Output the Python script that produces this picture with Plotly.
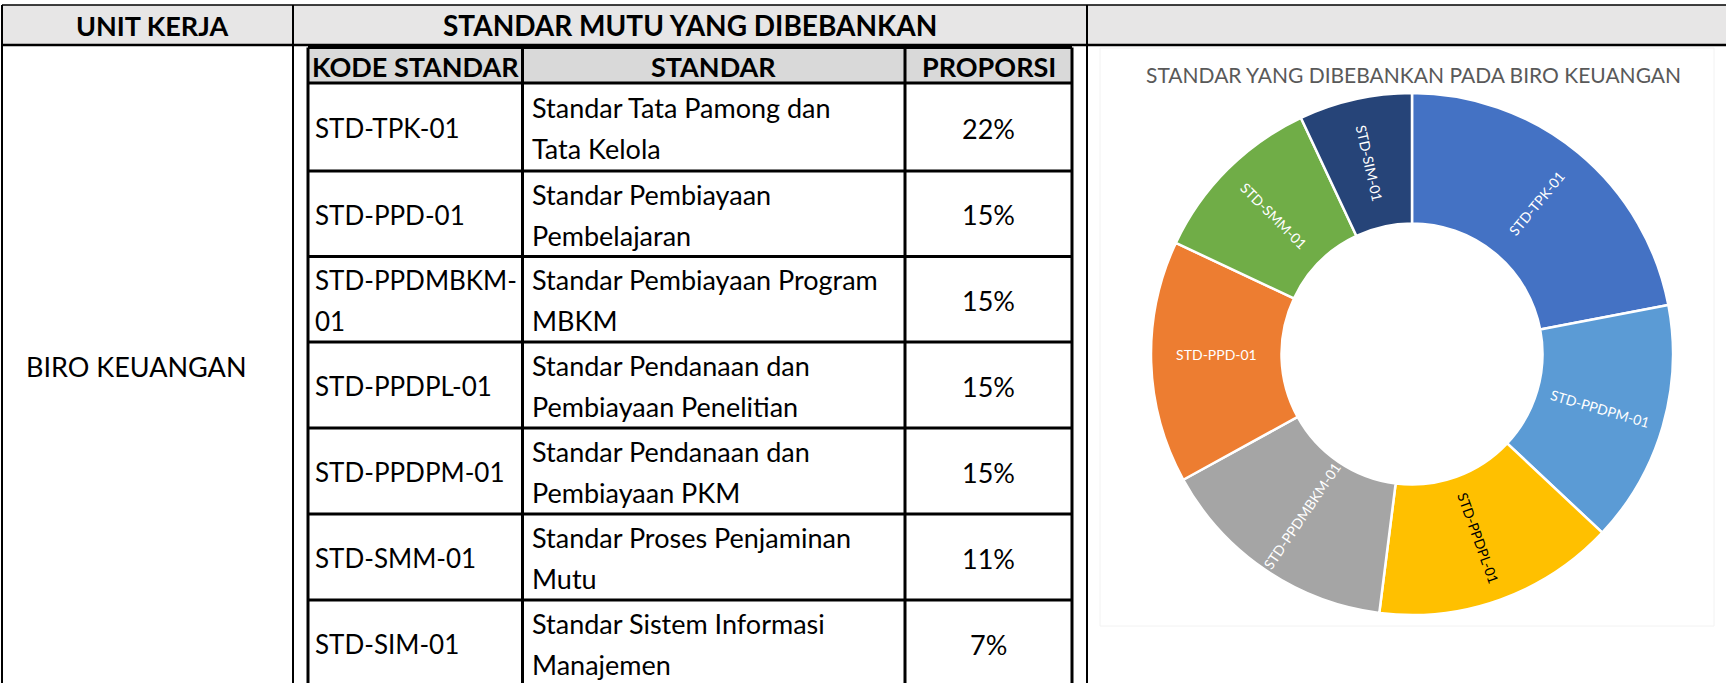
import math
import re
import plotly.graph_objects as go

# ---------------- data ----------------
header_unit = "UNIT KERJA"
header_main = "STANDAR MUTU YANG DIBEBANKAN"
sub_headers = ["KODE STANDAR", "STANDAR", "PROPORSI"]
unit_name = "BIRO KEUANGAN"
codes = ["STD-TPK-01", "STD-PPD-01", "STD-PPDMBKM-01", "STD-PPDPL-01",
         "STD-PPDPM-01", "STD-SMM-01", "STD-SIM-01"]
names = ["Standar Tata Pamong dan Tata Kelola",
         "Standar Pembiayaan Pembelajaran",
         "Standar Pembiayaan Program MBKM",
         "Standar Pendanaan dan Pembiayaan Penelitian",
         "Standar Pendanaan dan Pembiayaan PKM",
         "Standar Proses Penjaminan Mutu",
         "Standar Sistem Informasi Manajemen"]
proportions = [22, 15, 15, 15, 15, 11, 7]
chart_title = "STANDAR YANG DIBEBANKAN PADA BIRO KEUANGAN"
chart_order = ["STD-TPK-01", "STD-PPDPM-01", "STD-PPDPL-01", "STD-PPDMBKM-01",
               "STD-PPD-01", "STD-SMM-01", "STD-SIM-01"]
slice_colors = {"STD-TPK-01": "#4472C4", "STD-PPD-01": "#ED7D31",
                "STD-PPDMBKM-01": "#A5A5A5", "STD-PPDPL-01": "#FFC000",
                "STD-PPDPM-01": "#5B9BD5", "STD-SMM-01": "#70AD47",
                "STD-SIM-01": "#264478"}
label_colors = {"STD-PPDPL-01": "#000000"}
# labels that plotly would otherwise lay flat; drawn radially as annotations
radial_overrides = ["STD-PPDPM-01"]

# ---------------- geometry (pixels) ----------------
W, H = 1726, 683
FONT = "Lato"
FS = 27


def X(px):
    return px / W


def Y(py):
    return 1 - py / H


def wrap(s, width):
    tokens = re.findall(r"[^\s-]+-?\s?", s + " ")
    out, cur = [], ""
    for tok in tokens:
        if cur and len((cur + tok).rstrip()) > width:
            out.append(cur.rstrip())
            cur = tok
        else:
            cur += tok
    if cur.strip():
        out.append(cur.rstrip())
    return out


shapes = []
annotations = []


def rect(x0, y0, x1, y1, fill):
    shapes.append(dict(type="rect", xref="paper", yref="paper",
                       x0=X(x0), x1=X(x1), y0=Y(y1), y1=Y(y0),
                       fillcolor=fill, line=dict(width=0), layer="below"))


def line(x0, y0, x1, y1, w=1.5, color="#000000"):
    shapes.append(dict(type="line", xref="paper", yref="paper",
                       x0=X(x0), x1=X(x1), y0=Y(y0), y1=Y(y1),
                       line=dict(color=color, width=w)))


def text(px, py, s, anchor="center", bold=False, size=FS, color="#000000", angle=0):
    annotations.append(dict(xref="paper", yref="paper", x=X(px), y=Y(py),
                            text=f"<b>{s}</b>" if bold else s,
                            showarrow=False, xanchor=anchor, yanchor="middle",
                            textangle=angle,
                            font=dict(family=FONT, size=size, color=color)))


# column / row boundaries
left, col_unit, tbl_l, col_kode, col_std, tbl_r, col_chart = 2, 293, 308, 522.5, 905, 1072, 1087
top, head_b, sub_t, sub_b = 5, 45, 47.5, 83
row_b = [171, 256.5, 342, 428, 514, 600, 686]

# fills
rect(left, top, W, head_b, "#E7E6E6")
rect(tbl_l, sub_t, tbl_r, sub_b, "#D9D9D9")

# chart area frame
shapes.append(dict(type="rect", xref="paper", yref="paper",
                   x0=X(1100), x1=X(1714), y0=Y(626), y1=Y(48),
                   fillcolor="rgba(0,0,0,0)", line=dict(color="#F2F2F2", width=1)))

# outer grid
line(left, top, W, top, 1.5)
line(left, head_b, W, head_b, 2.5)
line(left, top, left, H, 2)
line(col_unit, top, col_unit, H, 2)
line(col_chart, top, col_chart, H, 2)

# inner table
TW = 3
line(tbl_l, sub_t, tbl_r, sub_t, TW)
line(tbl_l, sub_t, tbl_l, H, TW)
line(tbl_r, sub_t, tbl_r, H, TW)
line(col_kode, sub_t, col_kode, H, TW)
line(col_std, sub_t, col_std, H, TW)
line(tbl_l, sub_b, tbl_r, sub_b, TW)
for yb in row_b[:-1]:
    line(tbl_l, yb, tbl_r, yb, TW)

# header texts
text((left + col_unit) / 2 + 4, 25, header_unit, bold=True)
text((col_unit + col_chart) / 2, 25, header_main, bold=True, size=28)
sub_x = [(tbl_l + col_kode) / 2, (col_kode + col_std) / 2, (col_std + tbl_r) / 2]
for sx, s in zip(sub_x, sub_headers):
    text(sx, 66, s, bold=True)

text(24, 366, unit_name, anchor="left")

# rows
row_t = [sub_b] + row_b[:-1]
LS = 41
for i in range(len(codes)):
    yc = (row_t[i] + row_b[i]) / 2 + 1
    for col_x, s, width, fs in [(313, codes[i], 12, 26), (530, names[i], 26, FS)]:
        lines = wrap(s, width)
        n = len(lines)
        for j, ln in enumerate(lines):
            text(col_x, yc + (j - (n - 1) / 2) * LS, ln, anchor="left", size=fs)
    text(sub_x[2], yc, f"{proportions[i]}%")

# chart title
text(1413, 74, chart_title, size=21, color="#595959")

# donut
val_map = dict(zip(codes, proportions))
chart_vals = [val_map[c] for c in chart_order]
cx, cy, R, HOLE = 1412, 354, 261, 0.5
pie = go.Pie(
    labels=chart_order,
    values=chart_vals,
    text=["" if c in radial_overrides else c for c in chart_order],
    sort=False, direction="clockwise", rotation=0,
    hole=HOLE,
    marker=dict(colors=[slice_colors[c] for c in chart_order],
                line=dict(color="#FFFFFF", width=2.5)),
    textinfo="text", textposition="inside",
    insidetextorientation="radial",
    insidetextfont=dict(family=FONT, size=14,
                        color=[label_colors.get(c, "#FFFFFF") for c in chart_order]),
    hoverinfo="label+percent",
    showlegend=False,
    domain=dict(x=[X(cx - R), X(cx + R)], y=[Y(cy + R), Y(cy - R)]),
)

# radial labels for overridden slices, placed at the slice mid-angle / mid-ring
total = sum(chart_vals)
acc = 0
for c, v in zip(chart_order, chart_vals):
    mid = (acc + v / 2) / total * 360
    acc += v
    if c in radial_overrides:
        rm = R * (1 + HOLE) / 2
        px = cx + rm * math.sin(math.radians(mid))
        py = cy - rm * math.cos(math.radians(mid))
        ang = mid - 90 if mid <= 180 else mid - 270
        text(px, py, c, size=14, color=label_colors.get(c, "#FFFFFF"), angle=ang)

fig = go.Figure(pie)
fig.update_layout(
    width=W, height=H,
    margin=dict(l=0, r=0, t=0, b=0),
    paper_bgcolor="#FFFFFF", plot_bgcolor="#FFFFFF",
    shapes=shapes, annotations=annotations,
    showlegend=False,
)
fig.write_html("out.html", config={"displayModeBar": False},
               post_script="document.body.style.margin='0';")
